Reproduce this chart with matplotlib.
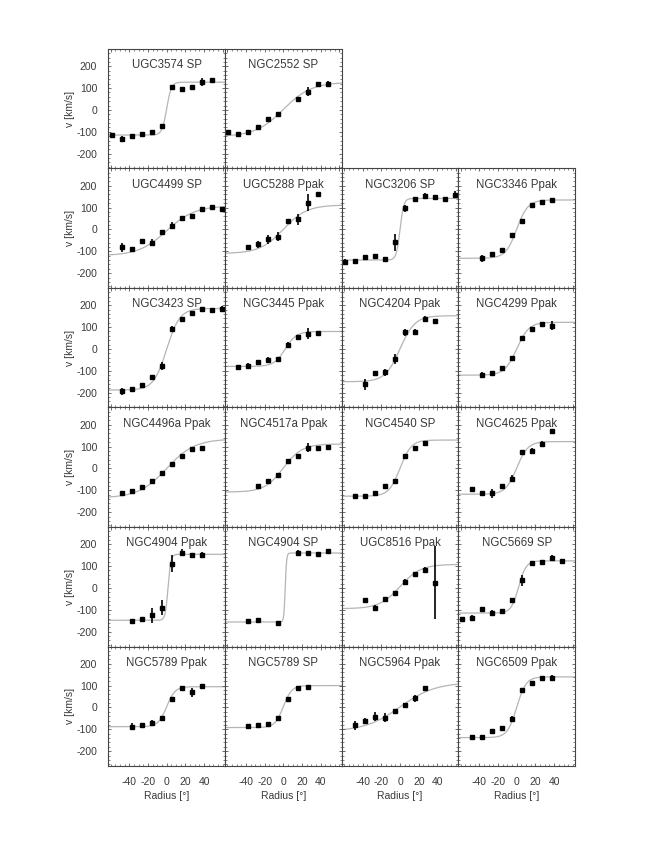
import numpy as np
import matplotlib
matplotlib.use('Agg')
import matplotlib.pyplot as plt
from matplotlib.ticker import MultipleLocator

plt.rcParams['font.family'] = ['Liberation Sans', 'DejaVu Sans']
plt.rcParams['axes.unicode_minus'] = False

# panel titles and their (row, column) in the grid
titles = ['UGC3574 SP', 'NGC2552 SP',
          'UGC4499 SP', 'UGC5288 Ppak', 'NGC3206 SP', 'NGC3346 Ppak',
          'NGC3423 SP', 'NGC3445 Ppak', 'NGC4204 Ppak', 'NGC4299 Ppak',
          'NGC4496a Ppak', 'NGC4517a Ppak', 'NGC4540 SP', 'NGC4625 Ppak',
          'NGC4904 Ppak', 'NGC4904 SP', 'UGC8516 Ppak', 'NGC5669 SP',
          'NGC5789 Ppak', 'NGC5789 SP', 'NGC5964 Ppak', 'NGC6509 Ppak']
rows = [0, 0] + [1] * 4 + [2] * 4 + [3] * 4 + [4] * 4 + [5] * 4
cols = [0, 1] + [0, 1, 2, 3] * 5

# measured radii [arcsec]
radius = [
    [-58.7, -48, -37.3, -26.7, -16, -5.3, 5.3, 16, 26.7, 37.3, 48],
    [-58.7, -48, -37.3, -26.7, -16, -5.3, 16, 26.7, 37.3, 48],
    [-48, -37.3, -26.7, -16, -5.3, 5.3, 16, 26.7, 37.3, 48, 58.7],
    [-37.3, -26.7, -16, -5.3, 5.3, 16, 26.7, 37.3],
    [-58.7, -48, -37.3, -26.7, -16, -5.3, 5.3, 16, 26.7, 37.3, 48, 58.7],
    [-37.3, -26.7, -16, -5.3, 5.3, 16, 26.7, 37.3],
    [-48, -37.3, -26.7, -16, -5.3, 5.3, 16, 26.7, 37.3, 48, 58.7],
    [-48, -37.3, -26.7, -16, -5.3, 5.3, 16, 26.7, 37.3],
    [-37.3, -26.7, -16, -5.3, 5.3, 16, 26.7, 37.3],
    [-37.3, -26.7, -16, -5.3, 5.3, 16, 26.7, 37.3],
    [-48, -37.3, -26.7, -16, -5.3, 5.3, 16, 26.7, 37.3],
    [-26.7, -16, -5.3, 5.3, 16, 26.7, 37.3, 48],
    [-48, -37.3, -26.7, -16, -5.3, 5.3, 16, 26.7],
    [-48, -37.3, -26.7, -16, -5.3, 5.3, 16, 26.7, 37.3],
    [-37.3, -26.7, -16, -5.3, 5.3, 16, 26.7, 37.3],
    [-37.3, -26.7, -5.3, 16, 26.7, 37.3, 48],
    [-37.3, -26.7, -16, -5.3, 5.3, 16, 26.7, 37.3],
    [-58.7, -48, -37.3, -26.7, -16, -5.3, 5.3, 16, 26.7, 37.3, 48],
    [-37.3, -26.7, -16, -5.3, 5.3, 16, 26.7, 37.3],
    [-37.3, -26.7, -16, -5.3, 5.3, 16, 26.7],
    [-48, -37.3, -26.7, -16, -5.3, 5.3, 16, 26.7],
    [-48, -37.3, -26.7, -16, -5.3, 5.3, 16, 26.7, 37.3],
]

# measured velocities [km/s]
velocity = [
    [-114, -133, -121, -111, -103, -73, 106, 94, 106, 126, 136],
    [-103, -111, -100, -80, -42, -18, 48, 83, 117, 121],
    [-82, -89, -53, -60, -13, 18, 54, 63, 94, 101, 92],
    [-82, -68, -45, -33, 39, 47, 123, 162],
    [-150, -143, -127, -123, -135, -59, 97, 139, 153, 150, 138, 159],
    [-132, -114, -95, -25, 39, 112, 126, 135],
    [-194, -182, -163, -128, -78, 93, 136, 165, 183, 180, 182],
    [-82, -79, -58, -49, -47, 20, 55, 70, 73],
    [-162, -111, -107, -46, 76, 79, 137, 128],
    [-119, -111, -88, -40, 49, 90, 113, 107],
    [-111, -101, -83, -56, -22, 21, 59, 91, 92],
    [-80, -57, -30, 36, 57, 95, 94, 100],
    [-126, -126, -111, -79, -56, 57, 95, 115],
    [-95, -114, -114, -79, -47, 74, 82, 111, 172],
    [-153, -143, -125, -90, 111, 162, 153, 153],
    [-153, -148, -159, 162, 160, 154, 168],
    [-53, -90, -52, -21, 27, 63, 84, 24],
    [-143, -136, -98, -114, -107, -56, 35, 114, 119, 137, 124],
    [-88, -81, -69, -50, 37, 90, 69, 99],
    [-84, -81, -78, -47, 37, 90, 95],
    [-81, -61, -43, -46, -17, 11, 41, 90],
    [-137, -134, -108, -92, -53, 79, 110, 133, 137],
]

# velocity errors [km/s]
errors = [
    [6, 15, 10, 12, 12, 6, 6, 6, 6, 18, 6],
    [6, 8, 6, 8, 10, 6, 10, 20, 8, 10],
    [20, 8, 8, 15, 6, 15, 6, 8, 8, 6, 8],
    [6, 15, 20, 20, 8, 25, 40, 6],
    [15, 6, 8, 6, 6, 40, 15, 6, 15, 6, 10, 15],
    [15, 8, 8, 10, 8, 10, 10, 8],
    [15, 8, 6, 8, 20, 12, 8, 8, 6, 6, 15],
    [6, 15, 6, 10, 10, 10, 6, 25, 6],
    [25, 12, 15, 25, 15, 12, 15, 6],
    [15, 8, 10, 8, 6, 8, 8, 20],
    [10, 8, 6, 10, 10, 6, 8, 8, 6],
    [10, 6, 10, 6, 6, 20, 8, 6],
    [6, 6, 6, 6, 8, 6, 6, 8],
    [6, 12, 20, 10, 15, 6, 12, 15, 6],
    [12, 8, 35, 35, 40, 15, 8, 12],
    [6, 6, 6, 10, 6, 10, 6],
    [6, 12, 6, 6, 12, 6, 12, 168],
    [6, 10, 6, 12, 10, 12, 25, 6, 6, 15, 6],
    [15, 8, 12, 12, 10, 10, 20, 6],
    [8, 6, 8, 8, 6, 6, 6],
    [20, 12, 20, 20, 12, 6, 15, 6],
    [6, 6, 10, 6, 15, 6, 6, 6, 10],
]

# fitted model: receding / approaching plateau, centre and turnover radius
model_vleft = [-115, -122, -120, -110, -140, -132, -188, -80, -150, -120, -135,
               -108, -127, -118, -148, -156, -95, -115, -88, -92, -110, -138]
model_vright = [127, 127, 108, 112, 142, 135, 185, 80, 152, 122, 135,
                112, 130, 123, 154, 160, 108, 124, 95, 100, 115, 140]
model_r0 = [0, 0, 0, 0, 0, 0, 0, 2, 0, 0, 0,
            0, 0, 0, 1.5, 2, 0, 2, 0, 0, 0, 0]
model_rt = [5, 30, 30, 25, 4, 12, 14, 12, 16, 13, 30,
            20, 12, 12, 3, 1.5, 22, 8, 9, 9, 38, 10]

W, H = 654, 846
left0, width = 108.3, 116.7
top0, height = 49.0, 119.5
xlim = (-62.4, 62.4)
ylim = (-268, 279)
txt = '#3a3a3a'

fig = plt.figure(figsize=(W / 100, H / 100), dpi=100)
rr = np.linspace(xlim[0], xlim[1], 300)

for i, name in enumerate(titles):
    r, c = rows[i], cols[i]
    x0 = (left0 + c * width) / W
    y0 = 1 - (top0 + (r + 1) * height) / H
    ax = fig.add_axes([x0, y0, width / W, height / H])

    mid = (model_vleft[i] + model_vright[i]) / 2
    amp = (model_vright[i] - model_vleft[i]) / 2
    ax.plot(rr, mid + amp * np.tanh((rr - model_r0[i]) / model_rt[i]),
            color='#b5b5b5', lw=0.9, zorder=1)
    ax.errorbar(radius[i], velocity[i], yerr=errors[i], fmt='s', color='k',
                ms=3.2, elinewidth=1.2, capsize=0, zorder=2)

    ax.set_xlim(xlim)
    ax.set_ylim(ylim)
    ax.xaxis.set_major_locator(MultipleLocator(20))
    ax.xaxis.set_minor_locator(MultipleLocator(5))
    ax.yaxis.set_major_locator(MultipleLocator(100))
    ax.yaxis.set_minor_locator(MultipleLocator(20))
    ax.tick_params(which='both', direction='in', top=True, right=True,
                   colors='#555555', labelcolor=txt, labelsize=7.5)
    ax.tick_params(which='major', length=2.5, width=0.6, pad=8)
    ax.tick_params(which='minor', length=1.2, width=0.5)
    for s in ax.spines.values():
        s.set_color('#444444')
        s.set_linewidth(0.8)

    ax.text(0.5, 0.865, name, transform=ax.transAxes, ha='center',
            va='center', fontsize=8.3, color=txt)

    if c == 0:
        ax.set_ylabel('v [km/s]', fontsize=7.5, color=txt, labelpad=1)
    else:
        ax.set_yticklabels([])
    if r == 5:
        ax.set_xlabel('Radius [°]', fontsize=7.5, color=txt, labelpad=3)
        ax.set_xticks([-40, -20, 0, 20, 40])
    else:
        ax.set_xticklabels([])

fig.savefig('out.png', dpi=100)
